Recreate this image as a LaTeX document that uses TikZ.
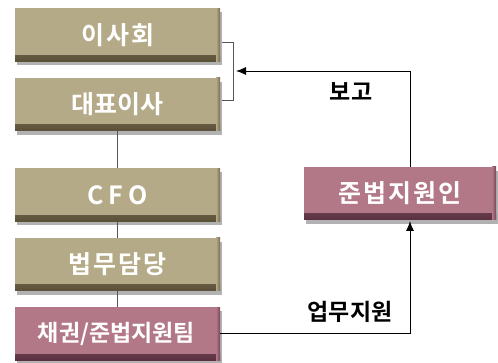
\documentclass[tikz,border=0pt]{standalone}
\usepackage{fontspec}
\newfontfamily\kr{Noto Sans CJK KR}[BoldFont={Noto Sans CJK KR Bold}]
\usetikzlibrary{arrows.meta,shadows,calc}
\definecolor{tanbox}{HTML}{B5AA88}
\definecolor{tandark}{HTML}{5A5038}
\definecolor{pinkbox}{HTML}{B27888}
\definecolor{pinkdark}{HTML}{5A3040}
\definecolor{linec}{HTML}{555555}
\tikzset{
  basebox/.style={minimum height=53pt, inner sep=0pt, text=white,
    font=\kr\bfseries\fontsize{25}{28}\selectfont,
    drop shadow={shadow xshift=2pt, shadow yshift=-4pt, opacity=0.3, fill=black}},
  tanb/.style={basebox, minimum width=205pt, fill=tanbox,
    path picture={\shade[top color=tanbox, bottom color=tandark]
      ([yshift=6pt]path picture bounding box.south west) rectangle (path picture bounding box.south east);
      \shade[left color=tanbox, right color=tandark!70!tanbox]
      ([xshift=-4pt]path picture bounding box.south east) rectangle (path picture bounding box.north east);}},
  pinkb/.style={basebox, fill=pinkbox,
    path picture={\shade[top color=pinkbox, bottom color=pinkdark]
      ([yshift=6pt]path picture bounding box.south west) rectangle (path picture bounding box.south east);
      \shade[left color=pinkbox, right color=pinkdark!70!pinkbox]
      ([xshift=-4pt]path picture bounding box.south east) rectangle (path picture bounding box.north east);}},
  conn/.style={draw=linec, line width=0.9pt},
  arr/.style={conn, -{Latex[length=10pt,width=8pt]}, black},
  lbl/.style={font=\kr\bfseries\fontsize{23}{26}\selectfont, text=black, inner sep=0pt}
}
\begin{document}
\begin{tikzpicture}[x=1pt,y=-1pt]
\useasboundingbox (0,0) rectangle (498,363);
\node[tanb] (ish) at (117.5,35) {이\hspace{2pt}사\hspace{2pt}회};
\node[tanb] (dp) at (117.5,104.5) {대표이사};
\node[tanb] (cfo) at (117.5,195) {C\hspace{5pt}F\hspace{5pt}O};
\node[tanb] (legal) at (117.5,264.5) {법\hspace{2pt}무\hspace{2pt}담\hspace{2pt}당};
\node[pinkb, minimum width=205pt, font=\kr\bfseries\fontsize{23}{26}\selectfont] (team) at (117.5,334) {\hspace{-2pt}채권/준법지원팀};
\node[pinkb, minimum width=192pt] (cw) at (400,193.5) {준\hspace{2pt}법\hspace{2pt}지\hspace{2pt}원\hspace{2pt}인};
\draw[conn] (dp.south) -- (cfo.north);
\draw[conn] (cfo.south) -- (legal.north);
\draw[conn] (legal.south) -- (team.north);
% bracket
\coordinate (b1) at (222,42);
\coordinate (b2) at (233,42);
\coordinate (b3) at (233,100);
\coordinate (b4) at (222,100);
\draw[conn] (b1) -- (b2) -- (b3) -- (b4);
\coordinate (tip) at (236,71);
\coordinate (cwtop) at (410,167);
\coordinate (cwbot) at (410,221);
\coordinate (teamr) at (220,333);
\draw[arr] (cwtop) |- (tip);
\draw[arr] (teamr) -| (cwbot);
\node[lbl] (bogo) at (351,92) {보고};
\node[lbl] (support) at (350,312) {업무지원};
\end{tikzpicture}
\end{document}
